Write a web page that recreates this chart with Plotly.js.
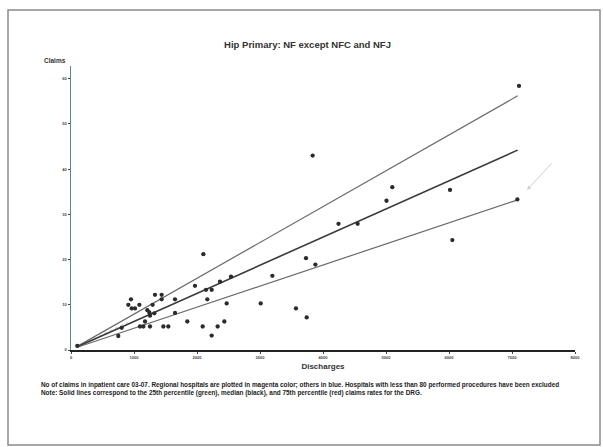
<!DOCTYPE html>
<html>
<head>
<meta charset="utf-8">
<script src="https://cdn.plot.ly/plotly-3.0.1.min.js"></script>
<style>html,body{margin:0;padding:0;background:#fff;}#chart{width:603px;height:447px;}</style>
</head>
<body>
<div id="chart"></div>
<script>
// Hospitals: discharges (x) and claims (y)
const discharges = [100, 751, 805, 910, 952, 963, 1016, 1085, 1095, 1148, 1175, 1212, 1243, 1254, 1254, 1296, 1333, 1323, 1439, 1439, 1466, 1545, 1651, 1651,
  2101, 1968, 1846, 2090, 2233, 2328, 2434, 2143, 2233, 2164, 2365, 2540, 2471, 3011, 3196, 3571, 3741, 3730,
  3879, 3836, 4246, 4550, 5008, 5100, 6016, 6053, 7085, 7111];
const claims = [0.9, 3.1, 4.9, 10, 11.2, 9.2, 9.2, 10, 5.2, 5.2, 6.3, 8.8, 8.3, 7.6, 5.2, 10, 12.2, 8.1, 12.2, 11.2, 5.2, 5.2, 11.2, 8.2,
  21.2, 14.2, 6.3, 5.2, 3.2, 5.2, 6.3, 13.3, 13.3, 11.2, 15.1, 16.2, 10.3, 10.3, 16.4, 9.2, 7.2, 20.3,
  18.9, 43, 27.9, 27.9, 33, 36, 35.4, 24.3, 33.3, 58.4];

// Percentile claim-rate lines
const lineX = [100, 7090];
const p75 = [0.8, 56.2];
const median = [0.7, 44.2];
const p25 = [0.6, 33.2];
const faintX = [100, 900];
const faintY = [0.7, 6.1];

const xTicks = [0, 1000, 2000, 3000, 4000, 5000, 6000, 7000, 8000];
const yTicks = [0, 10, 20, 30, 40, 50, 60];

const F = "Liberation Sans, Arial, sans-serif";

const traces = [
  {x: faintX, y: faintY, mode: 'lines', line: {color: '#c8c8c8', width: 1, dash: 'dot'}, hoverinfo: 'skip'},
  {x: lineX, y: p75, mode: 'lines', line: {color: '#6a6a6a', width: 1.2}},
  {x: lineX, y: median, mode: 'lines', line: {color: '#3a3a3a', width: 1.6}},
  {x: lineX, y: p25, mode: 'lines', line: {color: '#6a6a6a', width: 1.2}},
  {x: discharges, y: claims, mode: 'markers', marker: {color: '#2b2b2b', size: 4.3}}
];

const layout = {
  width: 603, height: 447,
  margin: {l: 71, r: 28, t: 66, b: 97},
  paper_bgcolor: '#ffffff', plot_bgcolor: '#ffffff',
  showlegend: false,
  font: {family: F, color: '#333'},
  title: {text: 'Hip Primary: NF except NFC and NFJ', font: {family: F, size: 9.5, color: '#333', weight: 'bold'},
    xref: 'container', yref: 'container', x: 0.51, y: 1 - 45/447, xanchor: 'center', yanchor: 'middle'},
  xaxis: {
    range: [0, 8000], tickvals: xTicks, ticktext: xTicks.map(String),
    showgrid: false, zeroline: false, showline: true, linecolor: '#222', linewidth: 2,
    ticks: 'outside', ticklen: 2, tickcolor: '#444',
    tickfont: {family: F, size: 4, color: '#444', weight: 'bold'},
    title: {text: 'Discharges', font: {family: F, size: 8, color: '#333', weight: 'bold'}, standoff: 5}
  },
  yaxis: {
    range: [0, 62.8], tickvals: yTicks, ticktext: yTicks.map(String),
    showgrid: false, zeroline: false, showline: true, linecolor: '#4f8f80', linewidth: 1.5,
    ticks: 'outside', ticklen: 2, tickcolor: '#444',
    tickfont: {family: F, size: 4, color: '#444', weight: 'bold'}
  },
  annotations: [
    {text: 'Claims', xref: 'paper', yref: 'paper', x: (55 - 71) / 504, y: (350 - 61) / 284, xanchor: 'center', yanchor: 'middle',
      showarrow: false, font: {family: F, size: 6.5, color: '#333', weight: 'bold'}},
    {text: 'No of claims in inpatient care 03-07. Regional hospitals are plotted in magenta color; others in blue. Hospitals with less than 80 performed procedures have been excluded<br>Note: Solid lines correspond to the 25th percentile (green), median (black), and 75th percentile (red) claims rates for the DRG.',
      xref: 'paper', yref: 'paper', x: (39 - 71) / 504, y: (350 - 379) / 284, xanchor: 'left', yanchor: 'top', align: 'left',
      showarrow: false, font: {family: F, size: 6.4, color: '#222', weight: 'bold'}},
    {text: '', x: 7238, y: 35.4, ax: 26, ay: -28, showarrow: true, arrowhead: 2, arrowsize: 0.8, arrowwidth: 1, arrowcolor: '#cfcfcf'}
  ],
  shapes: [
    {type: 'rect', xref: 'paper', yref: 'paper', x0: (8 - 71) / 504, x1: (600 - 71) / 504, y0: (350 - 445) / 284, y1: (350 - 10) / 284,
      line: {color: '#8a8a8a', width: 1.5}, fillcolor: 'rgba(0,0,0,0)', layer: 'below'}
  ]
};

Plotly.newPlot('chart', traces, layout, {displayModeBar: false, staticPlot: true});
</script>
</body>
</html>
